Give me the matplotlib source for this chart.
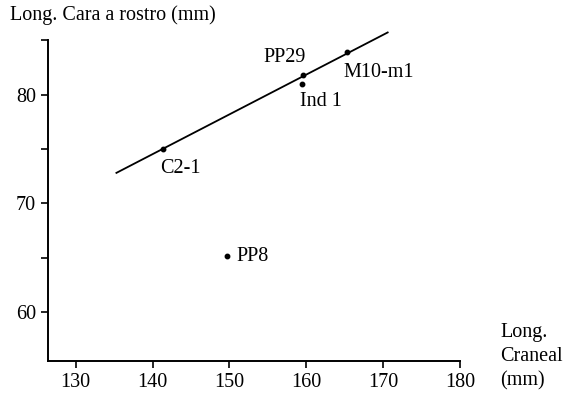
import matplotlib
matplotlib.use("Agg")
import matplotlib.pyplot as plt
from matplotlib.ticker import MultipleLocator

plt.rcParams['font.family'] = ['Liberation Serif', 'DejaVu Serif']

# specimens: cranial length vs face-to-rostrum length (mm)
names = ['C2-1', 'PP29', 'Ind 1', 'M10-m1', 'PP8']
cranial = [141.3, 159.6, 159.4, 165.3, 149.7]
face = [75.0, 81.8, 81.0, 83.9, 65.2]

# regression line ends
line_x = [135.3, 170.6]
line_y = [72.8, 85.7]

# label offsets in pixels
offsets = {'C2-1': (-2, -20, 'left'), 'PP29': (-19, 17, 'center'),
           'Ind 1': (-2, -18, 'left'), 'M10-m1': (-4, -20, 'left'),
           'PP8': (9, -1, 'left')}

fs = 14.5

fig = plt.figure(figsize=(5.65, 3.93), dpi=100)
ax = fig.add_axes([0.085, 0.081, 0.729, 0.817])

ax.plot(line_x, line_y, color='black', lw=1.3, clip_on=False)
ax.plot(cranial, face, 'o', color='black', ms=3.2)

for n, x, y in zip(names, cranial, face):
    dx, dy, ha = offsets[n]
    ax.annotate(n, (x, y), xytext=(dx, dy), textcoords='offset pixels',
                ha=ha, va='center', fontsize=fs)

ax.set_xlim(126.4, 180)
ax.set_ylim(55.5, 85)
ax.set_xticks([130, 140, 150, 160, 170, 180])
ax.set_yticks([60, 70, 80])
ax.yaxis.set_minor_locator(MultipleLocator(5))
ax.tick_params(axis='both', labelsize=fs, width=1.2, length=5)
ax.tick_params(axis='y', which='minor', width=1.2, length=5)

for s in ['top', 'right']:
    ax.spines[s].set_visible(False)
for s in ['left', 'bottom']:
    ax.spines[s].set_linewidth(1.4)

fig.text(10 / 565, 1 - 15 / 393, 'Long. Cara a rostro (mm)', ha='left',
         va='center', fontsize=fs)
fig.text(500 / 565, 1 - 357 / 393, 'Long.\nCraneal\n(mm)', ha='left',
         va='center', fontsize=fs, linespacing=1.35)

fig.savefig('out.png', dpi=100)
